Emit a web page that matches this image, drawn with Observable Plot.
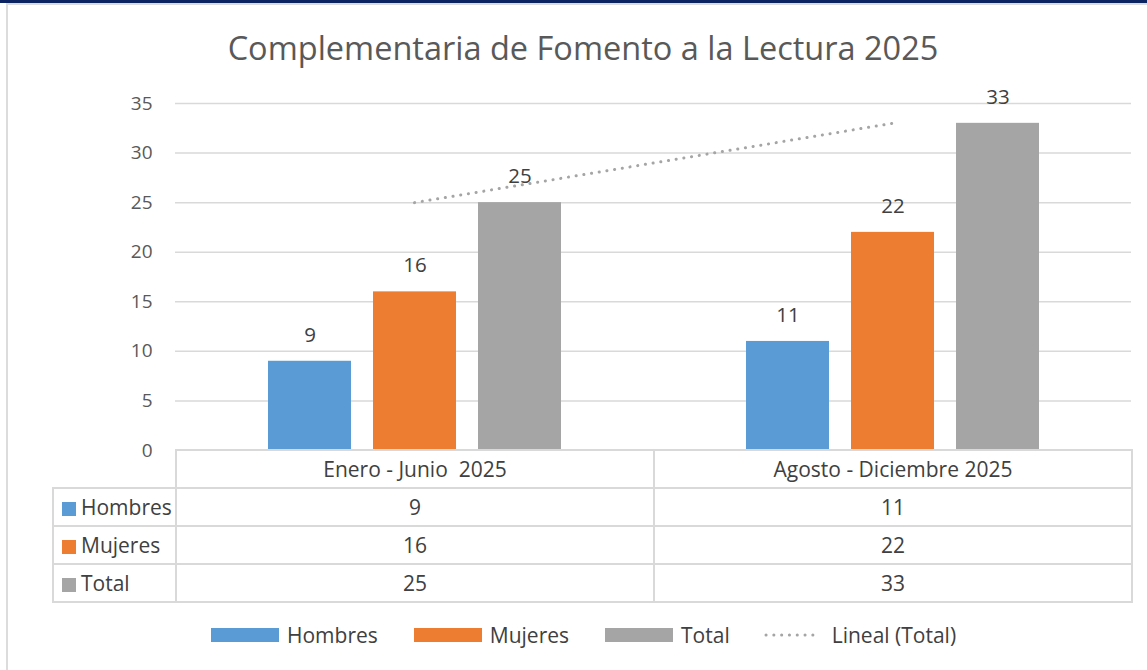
<!DOCTYPE html>
<html>
<head>
<meta charset="utf-8">
<script src="https://cdn.jsdelivr.net/npm/d3@7"></script>
<script src="https://cdn.jsdelivr.net/npm/@observablehq/plot@0.6"></script>
<style>
  body { margin: 0; background: #fff; font-family: "Open Sans", sans-serif; }
  #wrap { position: relative; width: 1147px; height: 670px; overflow: hidden; background: #fff; }
  #topbar { position: absolute; left: 0; top: 0; width: 1147px; height: 3px; background: #0c2461; }
  #topline { position: absolute; left: 6px; top: 3px; width: 1141px; height: 2px; background: #dcdcdc; }
  #leftline { position: absolute; left: 6px; top: 3px; width: 2px; height: 667px; background: #dcdcdc; }
  #title { position: absolute; left: 0; width: 1166px; top: 25px; text-align: center; font-size: 32.5px; color: #595959; }
  #chart, #trend { position: absolute; left: 0; top: 70px; }
  #table { position: absolute; left: 52px; top: 449px; border-collapse: collapse; font-size: 21px; color: #404040; }
  #table td { border: 2px solid #d9d9d9; padding: 0; text-align: center; height: 36px; }
  #table td.lab { text-align: left; padding-left: 8px; width: 113px; }
  #table td.blank { border: none; border-right: 2px solid #d9d9d9; }
  #table td.col { width: 476px; }
  .sq { display: inline-block; width: 14px; height: 14px; margin-right: 5px; vertical-align: -1px; }
  #legend { position: absolute; left: 211px; top: 621px; display: flex; align-items: center; font-size: 21px; color: #404040; }
  .li { display: flex; align-items: center; margin-right: 36px; }
  .sw { width: 68px; height: 14px; margin-right: 8px; }
</style>
</head>
<body>
<div id="wrap">
  <div id="topbar"></div>
  <div id="topline"></div>
  <div id="leftline"></div>
  <div id="title"></div>
  <div id="chart"></div>
  <div id="trend"></div>
  <table id="table"></table>
  <div id="legend"></div>
</div>
<script>
const title = "Complementaria de Fomento a la Lectura 2025";
const periods = ["Enero - Junio  2025", "Agosto - Diciembre 2025"];
const series = ["Hombres", "Mujeres", "Total"];
const hombres = [9, 11];
const mujeres = [16, 22];
const total = [25, 33];
const colors = ["#5b9bd5", "#ed7d31", "#a5a5a5"];
const yTicks = [0, 5, 10, 15, 20, 25, 30, 35];
const trendLabel = "Lineal (Total)";

const seriesValues = [hombres, mujeres, total];
const rows = [];
series.forEach((s, si) => periods.forEach((p, pi) => rows.push({periodo: p, serie: s, valor: seriesValues[si][pi]})));

document.getElementById("title").textContent = title;

const W = 1147, H = 392;
const common = {width: W, height: H, marginLeft: 175, marginRight: 16, marginTop: 33, marginBottom: 12};

const chart = Plot.plot({
  ...common,
  style: {fontFamily: "Open Sans, sans-serif", fontSize: "19px", color: "#595959", background: "transparent"},
  fx: {domain: periods, padding: 0, axis: null, label: null},
  x: {domain: series, paddingInner: 0.21, paddingOuter: 0.88, axis: null, label: null},
  y: {domain: [0, 35], ticks: yTicks, tickSize: 0, tickPadding: 23, label: null},
  color: {domain: series, range: colors},
  marks: [
    Plot.ruleY(yTicks.filter(d => d > 0), {stroke: "#d9d9d9", strokeWidth: 1.5}),
    Plot.barY(rows, {fx: "periodo", x: "serie", y: "valor", fill: "serie"}),
    Plot.text(rows, {fx: "periodo", x: "serie", y: "valor", text: d => String(d.valor), dy: -26, fill: "#404040", fontSize: 20.5})
  ]
});
document.getElementById("chart").appendChild(chart);

const trendData = periods.map((p, i) => ({periodo: p, valor: total[i]}));
const trend = Plot.plot({
  ...common,
  style: {background: "transparent"},
  x: {type: "point", domain: periods, padding: 0.5, axis: null},
  y: {domain: [0, 35], axis: null},
  marks: [
    Plot.line(trendData, {x: "periodo", y: "valor", stroke: "#a5a5a5", strokeWidth: 3, strokeDasharray: "0.1 7.7", strokeLinecap: "round"})
  ]
});
document.getElementById("trend").appendChild(trend);

// data table
const table = document.getElementById("table");
let html = "<tr><td class='blank'></td>" + periods.map(p => `<td class='col'>${p.replace(/ /g, "&nbsp;")}</td>`).join("") + "</tr>";
series.forEach((s, si) => {
  html += `<tr><td class='lab'><span class='sq' style='background:${colors[si]}'></span>${s}</td>` +
    seriesValues[si].map(v => `<td>${v}</td>`).join("") + "</tr>";
});
table.innerHTML = html;

// legend
const legend = document.getElementById("legend");
let lh = series.map((s, si) => `<div class='li'><div class='sw' style='background:${colors[si]}'></div>${s}</div>`).join("");
lh += `<div class='li' style='margin-left:-8px'><svg width='68' height='14' style='margin-right:6px'><line x1='8' y1='7' x2='62' y2='7' stroke='#a5a5a5' stroke-width='3' stroke-dasharray='0.1 7.7' stroke-linecap='round'/></svg>${trendLabel}</div>`;
legend.innerHTML = lh;
</script>
</body>
</html>
